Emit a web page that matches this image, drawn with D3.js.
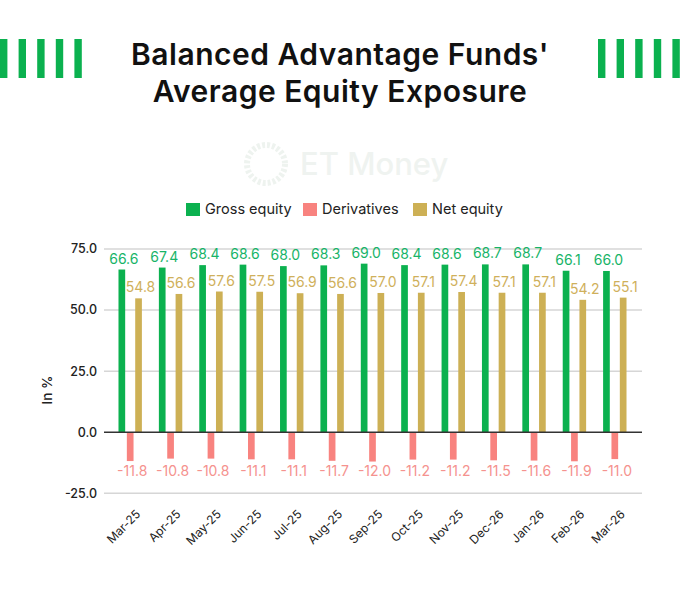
<!DOCTYPE html>
<html>
<head>
<meta charset="utf-8">
<script src="https://cdn.jsdelivr.net/npm/d3@7"></script>
<style>
  html, body { margin: 0; padding: 0; background: #fff; }
  svg { display: block; font-family: Inter, "Noto Sans", sans-serif; }
</style>
</head>
<body>
<div id="chart"></div>
<script>
var months = ["Mar-25", "Apr-25", "May-25", "Jun-25", "Jul-25", "Aug-25", "Sep-25",
  "Oct-25", "Nov-25", "Dec-26", "Jan-26", "Feb-26", "Mar-26"];
var grossEquity = [66.6, 67.4, 68.4, 68.6, 68.0, 68.3, 69.0, 68.4, 68.6, 68.7, 68.7, 66.1, 66.0];
var derivatives = [-11.8, -10.8, -10.8, -11.1, -11.1, -11.7, -12.0, -11.2, -11.2, -11.5, -11.6, -11.9, -11.0];
var netEquity = [54.8, 56.6, 57.6, 57.5, 56.9, 56.6, 57.0, 57.1, 57.4, 57.1, 57.1, 54.2, 55.1];
var seriesNames = ["Gross equity", "Derivatives", "Net equity"];
var yTicks = [-25, 0, 25, 50, 75];

var colors = {"Gross equity": "#0bb14f", "Derivatives": "#f8837f", "Net equity": "#cdb055"};
var labelColors = {"Gross equity": "#17b468", "Derivatives": "#f5928e", "Net equity": "#cfb05b"};

var width = 680, height = 601;
var plot = {left: 104, right: 642, top: 249, bottom: 493.3};

// plain hyphen for negatives, like the original
function fmt(v) { return v.toFixed(1); }

var svg = d3.select("#chart").append("svg")
  .attr("width", width)
  .attr("height", height);

// decorative stripes either side of the title
var stripes = d3.range(5);
[0, 598].forEach(function(xs) {
  svg.append("g").selectAll("rect")
    .data(stripes)
    .join("rect")
      .attr("x", function(d) { return xs + d * 18.6; })
      .attr("y", 39)
      .attr("width", 7.4)
      .attr("height", 39)
      .attr("fill", "#0bb14f");
});

["Balanced Advantage Funds'", "Average Equity Exposure"].forEach(function(t, i) {
  svg.append("text")
    .attr("x", width / 2)
    .attr("y", 65 + i * 37)
    .attr("text-anchor", "middle")
    .attr("font-size", 30)
    .attr("font-weight", 600)
    .attr("letter-spacing", 0.5)
    .attr("fill", "#111")
    .text(t);
});

// faint watermark
var wm = svg.append("g");
wm.append("circle")
  .attr("cx", 266).attr("cy", 164).attr("r", 19)
  .attr("fill", "none")
  .attr("stroke", "#eef3ef")
  .attr("stroke-width", 6)
  .attr("stroke-dasharray", "3 2");
wm.append("text")
  .attr("x", 300)
  .attr("y", 175)
  .attr("font-size", 31)
  .attr("font-weight", 500)
  .attr("fill", "#eff3f0")
  .text("ET Money");

// legend
var legendX = [186, 303, 413];
svg.append("g").selectAll("g")
  .data(seriesNames)
  .join("g")
  .each(function(d, i) {
    var g = d3.select(this);
    g.append("rect")
      .attr("x", legendX[i])
      .attr("y", 203)
      .attr("width", 14)
      .attr("height", 13)
      .attr("fill", colors[d]);
    g.append("text")
      .attr("x", legendX[i] + 19)
      .attr("y", 214)
      .attr("font-size", 14.5)
      .attr("fill", "#222")
      .text(d);
  });

var x0 = d3.scaleBand()
  .domain(months)
  .range([110, 635]);

var x1 = d3.scaleBand()
  .domain(seriesNames)
  .range([-11.7, 11.7])
  .paddingInner(0.2);

var y = d3.scaleLinear()
  .domain([-25, 75])
  .range([plot.bottom, plot.top]);

// gridlines
svg.append("g").selectAll("line")
  .data(yTicks.filter(function(t) { return t !== 0; }))
  .join("line")
    .attr("x1", plot.left)
    .attr("x2", plot.right)
    .attr("y1", function(d) { return y(d); })
    .attr("y2", function(d) { return y(d); })
    .attr("stroke", "#d6d6d6")
    .attr("stroke-width", 1.5);

// y tick labels
svg.append("g").selectAll("text")
  .data(yTicks)
  .join("text")
    .attr("x", 97)
    .attr("y", function(d) { return y(d); })
    .attr("dy", "0.35em")
    .attr("text-anchor", "end")
    .attr("font-size", 12.5)
    .attr("font-weight", 500)
    .attr("fill", "#222")
    .text(fmt);

svg.append("text")
  .attr("transform", "translate(52,390) rotate(-90)")
  .attr("text-anchor", "middle")
  .attr("font-size", 13.5)
  .attr("font-weight", 500)
  .attr("fill", "#222")
  .text("In %");

var rows = months.map(function(m, i) {
  return {month: m, values: [
    {key: "Gross equity", value: grossEquity[i]},
    {key: "Derivatives", value: derivatives[i]},
    {key: "Net equity", value: netEquity[i]}
  ]};
});

var groups = svg.append("g").selectAll("g")
  .data(rows)
  .join("g")
    .attr("transform", function(d) { return "translate(" + (x0(d.month) + x0.bandwidth() / 2) + ",0)"; });

groups.selectAll("rect")
  .data(function(d) { return d.values; })
  .join("rect")
    .attr("x", function(d) { return x1(d.key); })
    .attr("width", x1.bandwidth())
    .attr("y", function(d) { return y(Math.max(0, d.value)); })
    .attr("height", function(d) { return Math.abs(y(d.value) - y(0)); })
    .attr("fill", function(d) { return colors[d.key]; });

var derivLabelY = y(d3.min(derivatives)) + 14;

groups.selectAll("text.val")
  .data(function(d) { return d.values; })
  .join("text")
    .attr("class", "val")
    .attr("x", function(d) { return x1(d.key) + x1.bandwidth() / 2 + 2; })
    .attr("y", function(d) { return d.value < 0 ? derivLabelY : y(d.value) - 6; })
    .attr("text-anchor", "middle")
    .attr("font-size", 14)
    .attr("fill", function(d) { return labelColors[d.key]; })
    .text(function(d) { return fmt(d.value); });

// zero line
svg.append("line")
  .attr("x1", plot.left)
  .attr("x2", plot.right)
  .attr("y1", y(0))
  .attr("y2", y(0))
  .attr("stroke", "#333")
  .attr("stroke-width", 1.6);

// x labels
svg.append("g").selectAll("text")
  .data(months)
  .join("text")
    .attr("transform", function(d) { return "translate(" + (x0(d) + x0.bandwidth() / 2 + 5) + ",509) rotate(-45)"; })
    .attr("text-anchor", "end")
    .attr("dy", "0.7em")
    .attr("font-size", 12)
    .attr("fill", "#222")
    .text(function(d) { return d; });
</script>
</body>
</html>
